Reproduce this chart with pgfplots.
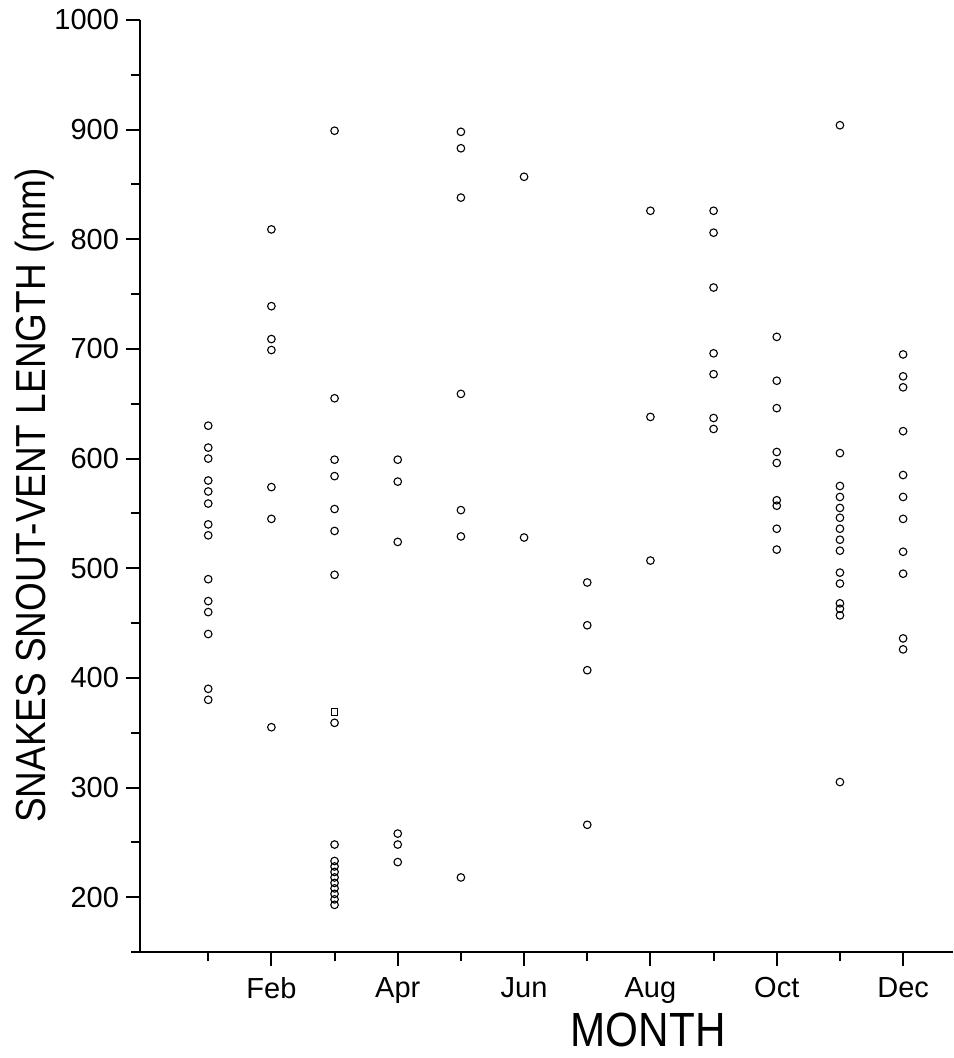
\documentclass[border=0pt]{standalone}
\usepackage{fontspec}
\setmainfont{Liberation Sans}
\usepackage{graphicx}
\usepackage{pgfplots}
\pgfplotsset{compat=1.18}

\begin{document}
\begin{tikzpicture}
\begin{axis}[
  name=ax,
  scale only axis,
  width=406.5pt, height=466pt,
  xmin=-0.08, xmax=12.79,
  ymin=150, ymax=1000,
  axis lines*=left,
  axis line style={line width=1.2pt},
  xtick={2,4,...,12},
  xticklabels={Feb,Apr,Jun,Aug,Oct,Dec},
  minor xtick={1,3,...,11},
  ytick={200,300,...,1000},
  minor ytick={150,250,...,950},
  tick align=outside,
  major tick length=7pt,
  minor tick length=4.5pt,
  tick style={line width=1pt, black},
  tick label style={font=\fontsize{14.5}{16}\selectfont},
  /pgf/number format/assume math mode=true,
  /pgf/number format/set thousands separator={},
  xticklabel style={yshift=-2pt},
  xlabel={\scalebox{0.88}[1]{MONTH}},
  xlabel style={font=\fontsize{24}{28}\selectfont, at={(axis description cs:0.625,-0.084)}, anchor=center},
  ylabel={\scalebox{0.88}[1]{SNAKES SNOUT-VENT LENGTH (mm)}},
  ylabel style={font=\fontsize{21}{25}\selectfont, at={(axis description cs:-0.129,0.49)}, anchor=center},
  clip=false,
]
\coordinate (ll) at (rel axis cs:0,0);
\coordinate (ur) at (rel axis cs:1,1);
% open circles
\addplot[only marks, mark=o, mark size=1.9pt, mark options={line width=0.55pt, black}] coordinates {
  (1,630) (1,610) (1,600) (1,580) (1,570) (1,559) (1,540) (1,530) (1,490) (1,470) (1,460) (1,440) (1,390) (1,380)
  (2,809) (2,739) (2,709) (2,699) (2,574) (2,545) (2,355)
  (3,899) (3,655) (3,599) (3,584) (3,554) (3,534) (3,494) (3,359) (3,248)
  (3,233) (3,228) (3,223) (3,218) (3,213) (3,208) (3,203) (3,198) (3,193)
  (4,599) (4,579) (4,524) (4,258) (4,248) (4,232)
  (5,898) (5,883) (5,838) (5,659) (5,553) (5,529) (5,218)
  (6,857) (6,528)
  (7,487) (7,448) (7,407) (7,266)
  (8,826) (8,638) (8,507)
  (9,826) (9,806) (9,756) (9,696) (9,677) (9,637) (9,627)
  (10,711) (10,671) (10,646) (10,606) (10,596) (10,562) (10,557) (10,536) (10,517)
  (11,904) (11,605) (11,575) (11,565) (11,555) (11,546) (11,536) (11,526) (11,516) (11,496) (11,486) (11,468) (11,463) (11,457) (11,305)
  (12,695) (12,675) (12,665) (12,625) (12,585) (12,565) (12,545) (12,515) (12,495) (12,436) (12,426)
};
% one square
\addplot[only marks, mark=square, mark size=1.6pt, mark options={line width=0.55pt, black}] coordinates {(3,369)};
\end{axis}
\pgfresetboundingbox
\path ([xshift=-70pt,yshift=-53pt]ll) rectangle ([yshift=10pt]ur);
\end{tikzpicture}
\end{document}
